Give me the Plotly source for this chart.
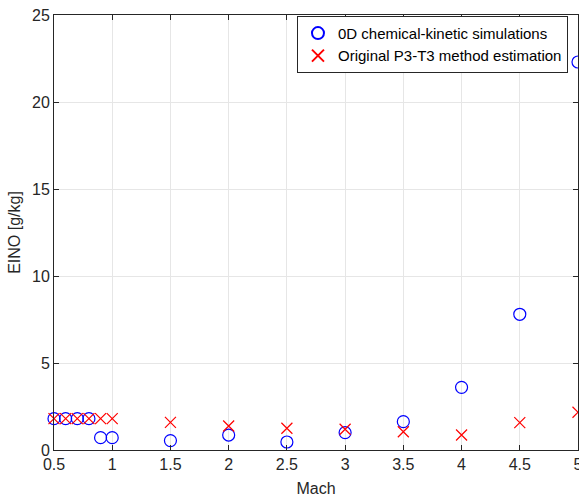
import plotly.graph_objects as go

mach = [0.5, 0.6, 0.7, 0.8, 0.9, 1.0, 1.5, 2.0, 2.5, 3.0, 3.5, 4.0, 4.5, 5.0]
eino_0d = [1.8, 1.8, 1.8, 1.8, 0.71, 0.71, 0.54, 0.86, 0.46, 1.0, 1.63, 3.6, 7.8, 22.3]
eino_p3t3 = [1.8, 1.8, 1.8, 1.8, 1.8, 1.8, 1.59, 1.38, 1.25, 1.19, 1.05, 0.86, 1.57, 2.17]
x_ticks = [0.5, 1, 1.5, 2, 2.5, 3, 3.5, 4, 4.5, 5]
y_ticks = [0, 5, 10, 15, 20, 25]

fig = go.Figure()
fig.add_trace(go.Scatter(
    x=mach, y=eino_0d, mode="markers", name="0D chemical-kinetic simulations",
    cliponaxis=False,
    marker=dict(symbol="circle-open", size=12, color="#0000ff", line=dict(width=1.2, color="#0000ff")),
))
fig.add_trace(go.Scatter(
    x=mach, y=eino_p3t3, mode="markers", name="Original P3-T3 method estimation",
    cliponaxis=False,
    marker=dict(symbol="x-thin-open", size=11, color="#ff0000", line=dict(width=1.2, color="#ff0000")),
))

axis_common = dict(
    showline=True, linecolor="#262626", linewidth=1, mirror="ticks",
    ticks="inside", ticklen=5, tickcolor="#262626",
    showgrid=True, gridcolor="#e6e6e6", gridwidth=1, zeroline=False,
    ticklabeloverflow="allow", automargin=False,
    tickfont=dict(family="Liberation Sans, Arial, sans-serif", size=16, color="#262626"),
)

fig.update_layout(
    width=579, height=497,
    margin=dict(l=54, r=1, t=15, b=47, autoexpand=False),
    paper_bgcolor="white", plot_bgcolor="white",
    font=dict(family="Liberation Sans, Arial, sans-serif", color="#262626"),
    xaxis=dict(range=[0.5, 5], tickvals=x_ticks, ticktext=[f"{v:g}" for v in x_ticks],
               title=dict(text="Mach", font=dict(size=16), standoff=10), **axis_common),
    yaxis=dict(range=[0, 25], tickvals=y_ticks,
               title=dict(text="EINO [g/kg]", font=dict(size=16), standoff=7), **axis_common),
    legend=dict(x=0.4637, y=0.998, xanchor="left", yanchor="top",
                bgcolor="white", bordercolor="#262626", borderwidth=1,
                font=dict(size=15, color="#000000"), tracegroupgap=0, itemsizing="constant"),
    showlegend=True,
)

fig.write_html(
    "out.html",
    config={"displayModeBar": False},
    post_script="document.body.style.margin='0';document.body.style.overflow='hidden';",
)
